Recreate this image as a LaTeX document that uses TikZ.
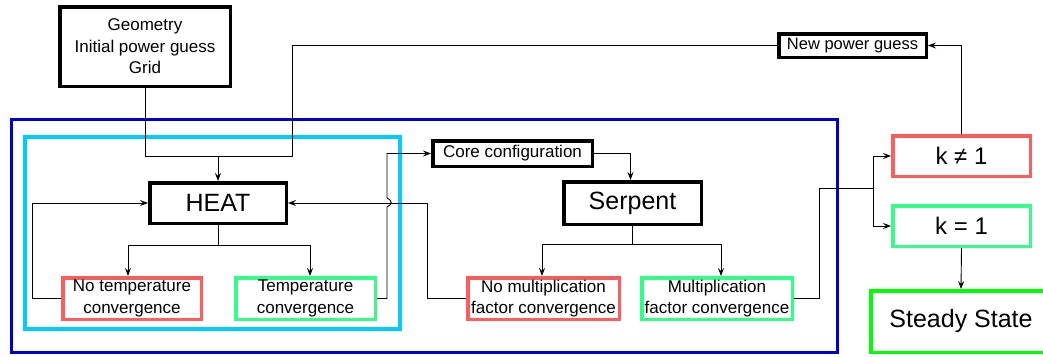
\documentclass[tikz,border=0pt]{standalone}
\usepackage{fontspec}
\setmainfont{Liberation Sans}
\usetikzlibrary{arrows.meta,positioning}
\definecolor{failred}{RGB}{255,92,92}
\definecolor{passgreen}{RGB}{51,255,136}
\definecolor{endgreen}{RGB}{0,255,0}
\definecolor{outerblue}{RGB}{0,0,204}
\definecolor{innercyan}{RGB}{0,204,255}

\begin{document}
\begin{tikzpicture}[x=1pt,y=-1pt,
  >={Stealth[length=8pt,width=6pt,inset=3pt]},
  box/.style={draw,line width=3.5pt,inner sep=0pt,align=center,font=\fontsize{17}{21.5}\selectfont},
  failbox/.style={box,draw=failred},
  passbox/.style={box,draw=passgreen},
  big/.style={font=\fontsize{25}{30}\selectfont},
  frame/.style={line width=3.5pt},
  conn/.style={line width=0.9pt}]
  \useasboundingbox (0,0) rectangle (1043,356);
  % frames
  \draw[frame,outerblue] (11.7,119.7) rectangle (837.3,352.3);
  \draw[frame,innercyan] (25,137) rectangle (400,329);
  % nodes
  \node[box,minimum width=170.5pt,minimum height=79.5pt] (geo) at (145,46.5) {Geometry\\Initial power guess\\Grid};
  \node[box,minimum width=147.5pt,minimum height=23.5pt,font=\fontsize{16.5}{20}\selectfont] (newp) at (852.5,45.5) {New power guess};
  \node[box,big,minimum width=136.5pt,minimum height=40.5pt] (heat) at (218,203) {HEAT};
  \node[failbox,minimum width=138.5pt,minimum height=41.5pt] (notemp) at (132,298.5) {No temperature\\convergence};
  \node[passbox,minimum width=139.5pt,minimum height=41.5pt] (temp) at (305.5,298.5) {Temperature\\convergence};
  \node[box,minimum width=159.5pt,minimum height=25.5pt] (core) at (512.5,153.5) {Core configuration};
  \node[box,big,minimum width=137.5pt,minimum height=42.5pt] (serp) at (632.5,203) {Serpent};
  \node[failbox,minimum width=151.5pt,minimum height=41.5pt] (nomult) at (543.5,298.5) {No multiplication\\factor convergence};
  \node[passbox,minimum width=150.5pt,minimum height=41.5pt] (mult) at (717,298.5) {Multiplication\\factor convergence};
  \node[failbox,minimum width=137.5pt,minimum height=40.5pt,font=\fontsize{24}{28}\selectfont] (kne) at (961.5,156) {k ≠ 1};
  \node[passbox,minimum width=137.5pt,minimum height=40.5pt,font=\fontsize{24}{28}\selectfont] (keq) at (961.5,226) {k = 1};
  \node[box,big,draw=endgreen,minimum width=180.5pt,minimum height=61.5pt] (steady) at (961,321.5) {Steady State};
  \coordinate (join) at (218,156);
  \coordinate (split) at (873,188);
  % connectors
  \draw[conn] (geo.south) |- (join);
  \draw[conn] (newp.west) -| (292,156) -- (join);
  \draw[conn,->] (join) -- (heat.north);
  \draw[conn,->] (heat.south) -- ++(0,20) -| ([xshift=-4pt]notemp.north);
  \draw[conn,->] (heat.south) ++(0,20) -| ([xshift=4.5pt]temp.north);
  \draw[conn,->] (notemp.west) -- ++(-29,0) |- (heat.west);
  \draw[conn,->] (temp.east) -- (387,298.5) -- (387,207)
    .. controls (392.5,205) and (392.5,200) .. (387,198) |- (core.west);
  \draw[conn,->] (core.east) -| ([xshift=-2pt]serp.north);
  \draw[conn,->] (serp.south) -- ++(0,18) -| ([xshift=-1.5pt]nomult.north);
  \draw[conn,->] (serp.south) ++(0,18) -| ([xshift=4pt]mult.north);
  \draw[conn,->] (nomult.west) -- ++(-39,0) |- (heat.east);
  \draw[conn] (mult.east) -- ++(25,0) |- (split);
  \draw[conn,->] (split) |- (kne.west);
  \draw[conn,->] (split) |- (keq.west);
  \draw[conn,->] (kne.north) |- (newp.east);
  \draw[conn,->] (keq.south) -- (steady.north);
\end{tikzpicture}
\end{document}
